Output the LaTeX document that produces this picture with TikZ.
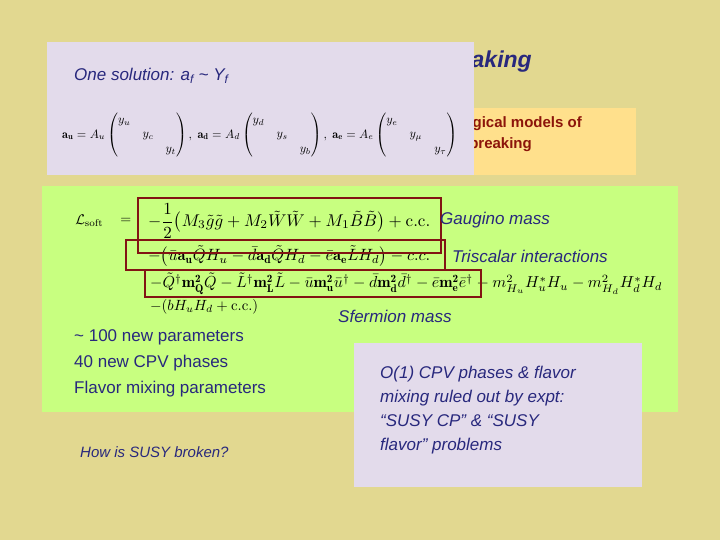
\documentclass[tikz,border=0pt]{standalone}
\usepackage{amsmath,amssymb,graphicx}
\usepackage{fontspec}
\newfontfamily\sansf{Liberation Sans}
\definecolor{bg}{RGB}{226,216,144}
\definecolor{lav}{RGB}{227,219,235}
\definecolor{yel}{RGB}{255,224,140}
\definecolor{grn}{RGB}{200,255,128}
\definecolor{tblue}{RGB}{40,40,125}
\definecolor{dred}{RGB}{140,20,10}
\definecolor{bred}{RGB}{130,20,20}
\begin{document}
\begin{tikzpicture}[x=1pt,y=-1pt,
  lbl/.style={anchor=west,inner sep=0,font=\sansf\fontsize{17}{20}\selectfont\itshape,text=tblue},
  plain/.style={anchor=west,inner sep=0,font=\sansf\fontsize{17}{20}\selectfont,text=tblue},
  phen/.style={anchor=east,inner sep=0,font=\sansf\fontsize{15}{18}\selectfont\bfseries,text=dred},
  eq/.style={anchor=west,inner sep=0}]
\fill[bg] (0,0) rectangle (720,540);
\node[anchor=east,inner sep=0,font=\sansf\fontsize{23}{28}\selectfont\bfseries\itshape,text=tblue] (title) at (532,62) {SUSY Breaking};
\fill[yel] (440,108) rectangle (636,175);
\node[phen] (phen1) at (582,124) {Phenomenological models of};
\node[phen] (phen2) at (532,145) {SUSY breaking};
\fill[lav] (47,42) rectangle (474,175);
\node[lbl] (sol) at (74,76) {One solution: a\textsubscript{\itshape f} \textasciitilde{} Y\textsubscript{\itshape f}};
\node[eq] (mat) at (62,135) {\resizebox{395pt}{!}{$\mathbf{a_u}=A_u\begin{pmatrix}y_u&&\\&y_c&\\&&y_t\end{pmatrix},\;
\mathbf{a_d}=A_d\begin{pmatrix}y_d&&\\&y_s&\\&&y_b\end{pmatrix},\;
\mathbf{a_e}=A_e\begin{pmatrix}y_e&&\\&y_\mu&\\&&y_\tau\end{pmatrix}$}};
\fill[grn] (42,186) rectangle (678,412);
\node[eq,scale=1.4] (L) at (75,221) {$\mathcal{L}_{\rm soft}$};
\node[eq,scale=1.4] (eqs) at (120,221) {$=$};
\node[eq] (r1) at (148,221) {\resizebox{282pt}{!}{$-\dfrac12\bigl(M_3\tilde g\tilde g+M_2\tilde W\tilde W+M_1\tilde B\tilde B\bigr)+\mathrm{c.c.}$}};
\node[eq] (r2) at (148,256) {\resizebox{282pt}{!}{$-\bigl(\bar{u}\mathbf{a_u}\tilde QH_u-\bar{d}\mathbf{a_d}\tilde QH_d-\bar{e}\mathbf{a_e}\tilde LH_d\bigr)-c.c.$}};
\node[eq] (r3) at (150,284) {\resizebox{512pt}{!}{$-\tilde Q^\dagger\mathbf{m_Q^2}\tilde Q-\tilde L^\dagger\mathbf{m_L^2}\tilde L-\bar{u}\mathbf{m_{\bar u}^2}\bar{u}^\dagger-\bar{d}\mathbf{m_{\bar d}^2}\bar{d}^\dagger-\bar{e}\mathbf{m_{\bar e}^2}\bar{e}^\dagger-m_{H_u}^2H_u^*H_u-m_{H_d}^2H_d^*H_d$}};
\node[eq] (r4) at (150,307) {\resizebox{108pt}{!}{$-(bH_uH_d+\mathrm{c.c.})$}};
\draw[draw=bred,line width=2.5pt] (138,198) rectangle (441,253);
\draw[draw=bred,line width=2.5pt] (126,240) rectangle (445,270);
\draw[draw=bred,line width=2.5pt] (145,270) rectangle (481,297);
\node[lbl] (g) at (440,220) {Gaugino mass};
\node[lbl] (t) at (452,256) {Triscalar interactions};
\node[lbl] (s) at (338,316) {Sfermion mass};
\node[plain,align=left,anchor=north west,font=\sansf\fontsize{17}{26}\selectfont] (np) at (74,329) {\textasciitilde{} 100 new parameters\\40 new CPV phases\\Flavor mixing parameters};
\node[lbl,font=\sansf\fontsize{15}{18}\selectfont\itshape] (how) at (80,452) {How is SUSY broken?};
\fill[lav] (354,343) rectangle (642,487);
\node[lbl,anchor=north west,align=left,font=\sansf\fontsize{17}{24}\selectfont\itshape] (cpv) at (380,366) {O(1) CPV phases \& flavor\\mixing ruled out by expt:\\“SUSY CP” \& “SUSY\\flavor” problems};
\end{tikzpicture}
\end{document}
